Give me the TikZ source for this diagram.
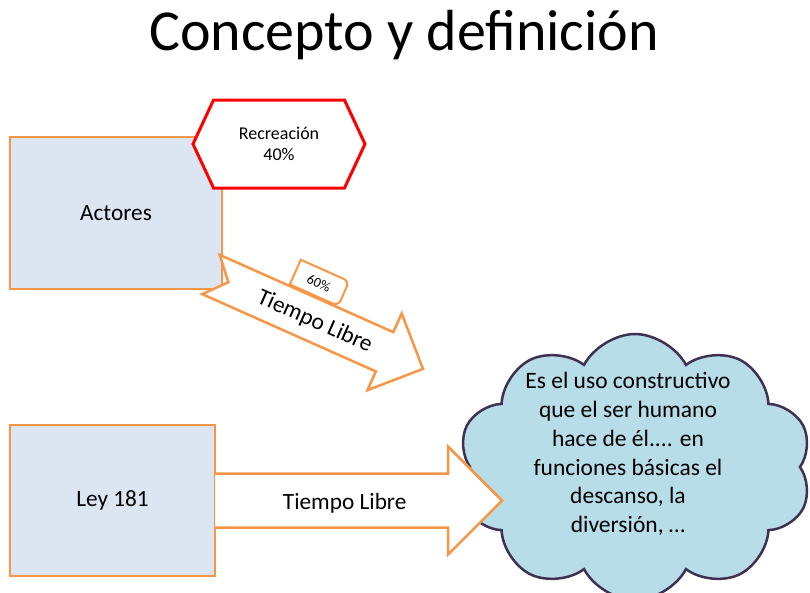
\documentclass[tikz,border=0pt]{standalone}
\usepackage{fontspec}
\setmainfont{Carlito}
\usetikzlibrary{shapes.symbols,calc}
\definecolor{lineorange}{HTML}{F79646}
\definecolor{boxblue}{HTML}{DCE6F2}
\definecolor{cloudblue}{HTML}{B7DEE8}
\definecolor{cloudline}{HTML}{403152}
\tikzstyle{textbox}=[draw=lineorange,fill=boxblue,line width=2.5pt,outer sep=0pt,font=\fontsize{23.3}{28}\selectfont]
\tikzstyle{blockarrow}=[draw=lineorange,fill=white,line width=2.5pt,line join=miter]
\tikzstyle{hexbox}=[shape=signal,signal to=east and west,signal pointer angle=130,draw=red,fill=white,line width=3pt,inner sep=0pt,minimum width=172pt,minimum height=88pt,align=center,font=\fontsize{18}{21}\selectfont]
\tikzstyle{nube}=[shape=cloud,cloud puffs=10,cloud puff arc=125,cloud ignores aspect,draw=cloudline,fill=cloudblue,line width=2.5pt,inner sep=0pt,minimum width=354pt,minimum height=266pt]

\begin{document}
\begin{tikzpicture}[x=1pt,y=-1pt]
\useasboundingbox (0,0) rectangle (810,592);
% title
\node[font=\fontsize{58}{70}\selectfont,anchor=base] (title) at (404,50) {Concepto y definición};

% upper part
\node[textbox,minimum width=212pt,minimum height=152pt] (actores) at (116,213) {Actores};
\node[hexbox] (recreacion) at (279,144) {Recreación\\40\%};
\begin{scope}[shift={($(actores.south east)+(-11,-14.5)$)},rotate=-24,transform shape]
	\coordinate (tail) at (0,0);
	\draw[blockarrow] (tail) ++(0,-21.5) -- ++(190,0) -- ++(0,-20.5) -- ++(42,42) -- ++(-42,42) -- ++(0,-20.5) -- ++(-190,0) -- ++(19,-21.5) -- cycle;
	\draw[blockarrow,line width=2pt] (76,-23) -- (76,-50) [rounded corners=6pt] -- (129,-50) -- (129,-23) [sharp corners] -- cycle;
	\node[font=\fontsize{14}{16}\selectfont] (tab) at (102,-36) {60\%};
	\node[font=\fontsize{23.3}{28}\selectfont] (diagtext) at (114,1) {Tiempo Libre};
\end{scope}

% lower part
\node[textbox,minimum width=205pt,minimum height=151pt] (ley) at (112.5,500.5) {Ley 181};
\node[nube] (nube) at (635,467) {};
\draw[blockarrow] (ley.east) ++(0,-27) -- ++(233,0) -- ++(0,-27) -- ++(54,54) -- ++(-54,54) -- ++(0,-27) -- ++(-233,0);
\node[font=\fontsize{23.3}{28}\selectfont,anchor=base] (flecha) at (344.7,509) {Tiempo Libre};
\node[font=\fontsize{23.5}{28.8}\selectfont,align=center] (definicion) at (628,454) {Es el uso constructivo\\que el ser humano\\hace de él.... en\\funciones básicas el\\descanso, la\\diversión, …};
\end{tikzpicture}
\end{document}
